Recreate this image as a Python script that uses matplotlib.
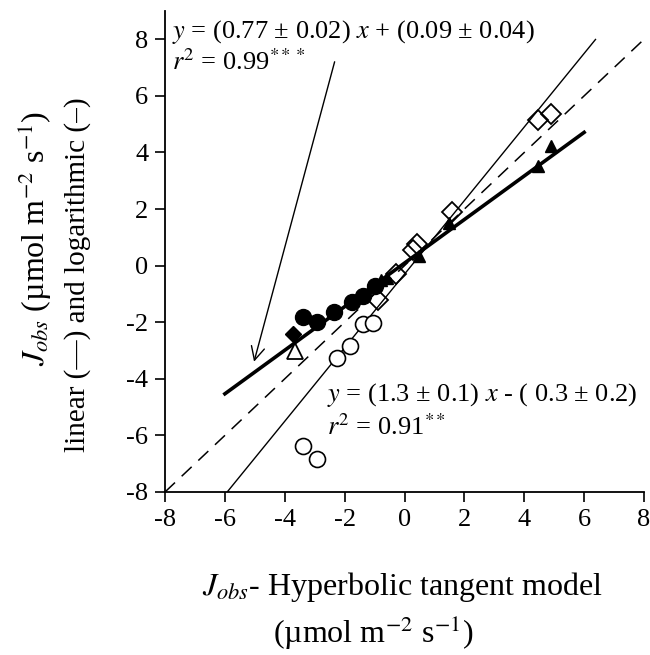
import matplotlib
matplotlib.use("Agg")
import matplotlib.pyplot as plt
import numpy as np

plt.rcParams['font.family'] = ['Liberation Serif', 'DejaVu Serif']
plt.rcParams['mathtext.fontset'] = 'stix'

# ---- data ----
filled_circles_x = [-3.38, -2.91, -2.37, -1.74, -1.37, -0.97]
filled_circles_y = [-1.81, -1.99, -1.63, -1.28, -1.06, -0.71]

open_circles_x = [-3.38, -2.91, -2.24, -1.81, -1.37, -1.04]
open_circles_y = [-6.38, -6.84, -3.26, -2.84, -2.06, -2.02]

open_diamonds_x = [4.45, 4.88, 1.60, 0.43, 0.30, -0.30, -0.90]
open_diamonds_y = [5.14, 5.35, 1.91, 0.75, 0.55, -0.30, -1.20]

filled_triangles_x = [4.88, 4.45, 1.50, 0.47, -0.60, -0.80]
filled_triangles_y = [4.22, 3.51, 1.50, 0.35, -0.45, -0.50]

open_triangle_x = [-3.65]
open_triangle_y = [-3.00]

filled_diamond_x = [-3.71]
filled_diamond_y = [-2.41]

# fits
lin_slope, lin_int, lin_range = 0.77, 0.09, (-6.0, 6.0)
log_slope, log_int, log_range = 1.3, -0.3, (-5.92, 6.38)
one_to_one_range = (-8.0, 8.0)

xticks = [-8, -6, -4, -2, 0, 2, 4, 6, 8]
yticks = [-8, -6, -4, -2, 0, 2, 4, 6, 8]

# ---- figure ----
fig = plt.figure(figsize=(6.5, 6.55), dpi=100)
ax = fig.add_axes([165/650, 1-492/655, (644-165)/650, (492-11)/655])

x = np.array(one_to_one_range)
ax.plot(x, x, color='black', lw=1.1, ls=(0, (9, 6)))
x = np.array(log_range)
ax.plot(x, log_slope*x + log_int, color='black', lw=1.0)
x = np.array(lin_range)
ax.plot(x, lin_slope*x + lin_int, color='black', lw=2.6)

ms = 11.5
ax.plot(open_circles_x, open_circles_y, 'o', ms=ms, mfc='white', mec='black', mew=1.2, ls='none')
ax.plot(filled_circles_x, filled_circles_y, 'o', ms=ms, mfc='black', mec='black', ls='none')
ax.plot(open_diamonds_x, open_diamonds_y, 'D', ms=10, mfc='none', mec='black', mew=1.3, ls='none')
ax.plot(filled_triangles_x, filled_triangles_y, '^', ms=8.5, mfc='black', mec='black', ls='none')
ax.plot(open_triangle_x, open_triangle_y, '^', ms=11, mfc='white', mec='black', mew=1.3, ls='none')
ax.plot(filled_diamond_x, filled_diamond_y, 'D', ms=8, mfc='black', mec='black', ls='none')

ax.set_xlim(-8, 8)
ax.set_ylim(-8, 9)
ax.set_xticks(xticks)
ax.set_yticks(yticks)
ax.set_xticklabels([str(t) for t in xticks])
ax.set_yticklabels([str(t) for t in yticks])
ax.tick_params(direction='out', length=7, width=1.2, labelsize=19, pad=5, colors='black')
for s in ['top', 'right']:
    ax.spines[s].set_visible(False)
for s in ['left', 'bottom']:
    ax.spines[s].set_linewidth(1.3)

fs = 19
ax.text(0.015, 0.957, r"$y$ = (0.77 ± 0.02) $x$ + (0.09 ± 0.04)", transform=ax.transAxes,
        fontsize=fs, ha='left', va='center')
ax.text(0.015, 0.893, r"$r^2$ = 0.99$^{***}$", transform=ax.transAxes,
        fontsize=fs, ha='left', va='center')
ax.annotate('', xy=(-5.05, -3.49), xytext=(-2.31, 7.30),
            arrowprops=dict(arrowstyle='->', color='black', lw=1.0, mutation_scale=24))

ax.text(0.338, 0.202, r"$y$ = (1.3 ± 0.1) $x$ - ( 0.3 ± 0.2)", transform=ax.transAxes,
        fontsize=fs, ha='left', va='center')
ax.text(0.338, 0.135, r"$r^2$ = 0.91$^{**}$", transform=ax.transAxes,
        fontsize=fs, ha='left', va='center')

# axis labels
fig.text(403/650, 1-587/655, r"$J_{obs}$- Hyperbolic tangent model", fontsize=23,
         ha='center', va='center')
fig.text(373/650, 1-633/655, r"(µmol m$^{-2}$ s$^{-1}$)", fontsize=23,
         ha='center', va='center')
fig.text(35/650, 1-238/655, r"$J_{obs}$ (µmol m$^{-2}$ s$^{-1}$)", fontsize=23,
         ha='center', va='center', rotation=90)
fig.text(78/650, 1-275/655, "linear (—) and logarithmic (–)", fontsize=21,
         ha='center', va='center', rotation=90)

fig.savefig('out.png', dpi=100)
